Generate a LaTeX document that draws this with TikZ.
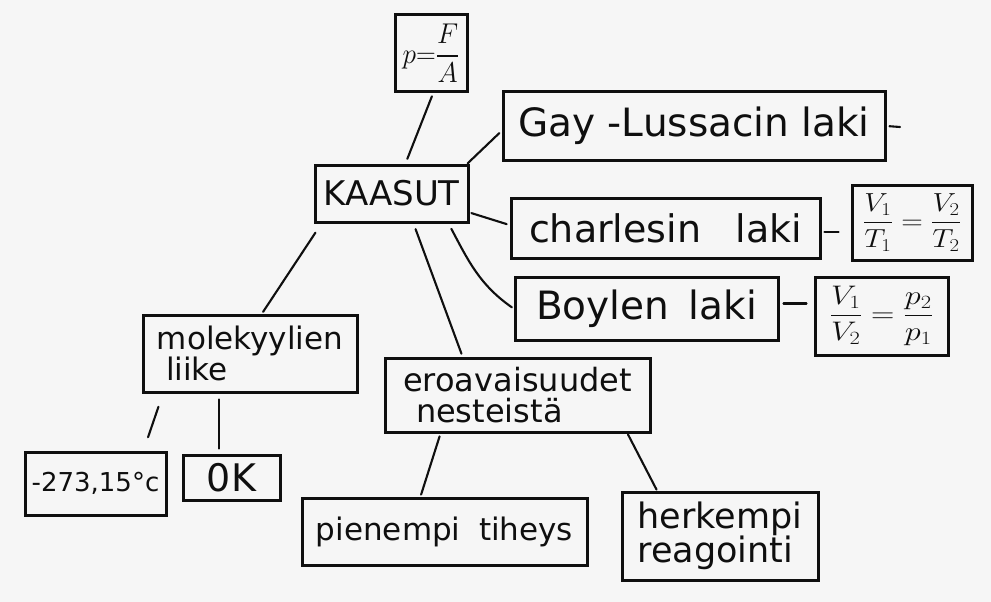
\documentclass[tikz,border=0pt]{standalone}
\usepackage{amsmath}
\usepackage{graphicx}
\usepackage{fontspec}
\setmainfont{DejaVu Sans}
\usetikzlibrary{calc}
\newcommand\handsize[2]{\fontsize{#1}{#2}\selectfont}
\definecolor{ink}{gray}{0.06}
\definecolor{paper}{gray}{0.965}
\tikzset{
  box/.style={draw=ink, line width=3pt, inner sep=0pt, text=ink},
  link/.style={draw=ink, line width=2.1pt, line cap=round},
}
\begin{document}
\begin{tikzpicture}[x=1pt,y=-1pt]
  \fill[paper] (0,0) rectangle (991,602);
  \useasboundingbox (0,0) rectangle (991,602);

  % central topic
  \node[box, minimum width=153, minimum height=57, font=\handsize{34}{36}] (kaasut) at (391.5,193.5)
    {KAASUT};

  % pressure definition
  \node[box, minimum width=72, minimum height=77, font=\handsize{24}{26}] (pfa) at (431,53.5)
    {\scalebox{1.1}[1.15]{$p{=}\dfrac{F}{A}$}};

  % gas laws
  \node[box, minimum width=382, minimum height=68, font=\handsize{39}{41}] (gay) at (694,126)
    {Gay -Lussacin laki};
  \coordinate (gayend) at (900,127);

  \node[box, minimum width=309, minimum height=60, font=\handsize{38}{40}] (charles) at (665.5,228)
    {charlesin\hspace{0.9em}laki};
  \node[box, minimum width=120, minimum height=75, font=\handsize{24}{26}] (eqc) at (912,222.5)
    {\scalebox{1.2}[1.05]{$\dfrac{V_1}{T_1}\;{=}\;\dfrac{V_2}{T_2}$}};

  \node[box, minimum width=263, minimum height=63, font=\handsize{39}{41}] (boyle) at (646.5,308.5)
    {Boylen\hspace{0.5em}laki};
  \node[box, minimum width=133, minimum height=78, font=\handsize{24}{26}] (eqb) at (881.5,316)
    {\scalebox{1.3}[1.08]{$\dfrac{V_1}{V_2}\;{=}\;\dfrac{p_2}{p_1}$}};

  % molecular motion
  \node[box, minimum width=214, minimum height=77, align=left, font=\handsize{31}{30}] (mol) at (250,353.5)
    {molekyylien\\\hspace{0.3em}liike};
  \node[box, minimum width=141, minimum height=63, font=\handsize{26}{28}] (zeroc) at (95.5,483.5)
    {-273,15°c};
  \node[box, minimum width=97, minimum height=45, font=\handsize{38}{40}] (zerok) at (231.5,477.5)
    {0K};

  % differences from liquids
  \node[box, minimum width=265, minimum height=74, align=left, font=\handsize{32}{31}] (ero) at (517.5,395)
    {eroavaisuudet\\\hspace{0.4em}nesteistä};
  \node[box, minimum width=285, minimum height=67, font=\handsize{31}{33}] (pien) at (444.5,531.5)
    {pienempi\hspace{0.6em}tiheys};
  \node[box, minimum width=196, minimum height=88, align=left, font=\handsize{35}{34}] (herk) at (720,536)
    {herkempi\\reagointi};

  % connectors
  \draw[link, shorten <=3pt, shorten >=5pt] ([xshift=2pt]pfa.south) -- ([xshift=14pt]kaasut.north);
  \draw[link, shorten >=3pt] ([xshift=-2pt]kaasut.north east) -- ([yshift=-5pt]gay.west);
  \draw[link, shorten <=2pt, shorten >=3pt] ([yshift=-19pt]kaasut.east) -- ([yshift=3pt]charles.west);
  \draw[link, shorten <=6pt, shorten >=2pt] ([xshift=57pt]kaasut.south) to[out=-62, in=145] (boyle.west);
  \draw[link, shorten <=6pt, shorten >=3pt] ([xshift=22pt]kaasut.south) -- ([xshift=-55pt]ero.north);
  \draw[link, shorten <=11pt, shorten >=2pt] ([xshift=-70pt]kaasut.south) -- ([xshift=12pt]mol.north);

  \draw[link, shorten <=14pt, shorten >=14pt] ([xshift=-87pt]mol.south) -- ([xshift=48pt]zeroc.north);
  \draw[link, shorten <=6pt, shorten >=5pt] ([xshift=-31pt]mol.south) -- ([xshift=-12.5pt]zerok.north);

  \draw[link, shorten <=3pt, shorten >=2pt] ([xshift=-77pt]ero.south) -- ([xshift=-24pt]pien.north);
  \draw[link, shorten <=1pt, shorten >=1pt] ([xshift=110pt]ero.south) -- ([xshift=-63pt]herk.north);

  \draw[link, shorten <=3pt, shorten >=12pt] ([yshift=-4pt]charles.east) -- ([yshift=-4pt]charles.east -| eqc.west);
  \draw[link, shorten <=4pt, shorten >=7pt] ([yshift=5pt]boyle.east) -- ([yshift=5pt]boyle.east -| eqb.west);
  \draw[link, shorten <=3pt] (gay.east) -- (gayend);
\end{tikzpicture}
\end{document}
